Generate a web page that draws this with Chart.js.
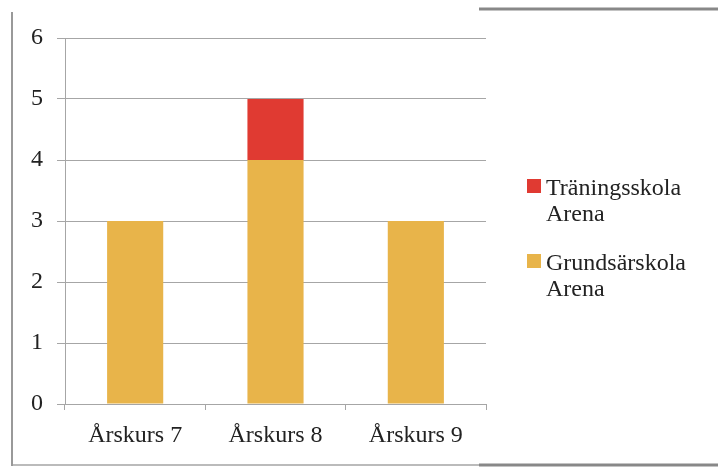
<!DOCTYPE html>
<html>
<head>
<meta charset="utf-8">
<script src="https://cdn.jsdelivr.net/npm/chart.js@4"></script>
<style>
  body { margin: 0; background: #fff; }
  #wrap { position: relative; width: 718px; height: 470px; }
  #legend { position: absolute; left: 527px; top: 174px; font-family: "Liberation Serif", serif; font-size: 24px; color: #222; line-height: 26px; }
  .item { position: relative; padding-left: 19px; margin-bottom: 23px; white-space: nowrap; }
  .box { position: absolute; left: 0; top: 5px; width: 14px; height: 14px; }
</style>
</head>
<body>
<div id="wrap">
  <canvas id="myChart" width="718" height="470"></canvas>
  <div id="legend"></div>
</div>
<script>
'use strict';

// data
let categories = ['Årskurs 7', 'Årskurs 8', 'Årskurs 9'];
let grundsarskola = [3, 4, 3];
let traningsskola = [0, 1, 0];
let seriesNames = [['Träningsskola', 'Arena'], ['Grundsärskola', 'Arena']];
let yTicks = [0, 1, 2, 3, 4, 5, 6];

let orange = '#E8B44A';
let red = '#E03A32';
let gridColor = '#A6A6A6';

// legend as html (top series first like the original)
let legend = document.getElementById('legend');
let legendColors = [red, orange];
for (let i = 0; i < seriesNames.length; i++) {
  let div = document.createElement('div');
  div.className = 'item';
  div.innerHTML = '<span class="box" style="background:' + legendColors[i] + '"></span>' + seriesNames[i].join('<br>');
  legend.appendChild(div);
}

// outer frame lines
let framePlugin = {
  id: 'frame',
  afterDraw(chart) {
    let ctx = chart.ctx;
    ctx.save();
    ctx.strokeStyle = '#999999';
    ctx.lineWidth = 2;
    ctx.beginPath();
    ctx.moveTo(12, 12);
    ctx.lineTo(12, 466);
    ctx.stroke();
    ctx.strokeStyle = '#BBBBBB';
    ctx.lineWidth = 2;
    ctx.beginPath();
    ctx.moveTo(13, 465);
    ctx.lineTo(479, 465);
    ctx.stroke();
    ctx.strokeStyle = '#888888';
    ctx.lineWidth = 3;
    ctx.beginPath();
    ctx.moveTo(479, 465);
    ctx.lineTo(718, 465);
    ctx.moveTo(479, 9);
    ctx.lineTo(718, 9);
    ctx.stroke();
    ctx.restore();
  }
};

let ctx = document.getElementById('myChart').getContext('2d');
let myChart = new Chart(ctx, { //eslint-disable-line
  type: 'bar',
  data: {
    labels: categories,
    datasets: [{
      label: seriesNames[1].join(' '),
      data: grundsarskola,
      backgroundColor: orange,
      borderWidth: 0,
      barPercentage: 0.4,
      categoryPercentage: 1
    },
    {
      label: seriesNames[0].join(' '),
      data: traningsskola,
      backgroundColor: red,
      borderWidth: 0,
      barPercentage: 0.4,
      categoryPercentage: 1
    }]
  },
  options: {
    responsive: false,
    animation: false,
    layout: { padding: { top: 38, right: 232, left: 0, bottom: 0 } },
    plugins: {
      legend: { display: false },
      tooltip: { enabled: false }
    },
    scales: {
      x: {
        stacked: true,
        afterFit(scale) { scale.height = 66; },
        grid: {
          offset: true,
          drawOnChartArea: false,
          drawTicks: true,
          tickLength: 6,
          color: gridColor
        },
        border: { color: gridColor, width: 1 },
        ticks: {
          color: '#222',
          padding: 11,
          font: { family: 'Liberation Serif', size: 24 }
        }
      },
      y: {
        stacked: true,
        min: 0,
        max: 6,
        afterFit(scale) { scale.width = 65; },
        afterBuildTicks(scale) { scale.ticks = yTicks.map(v => ({ value: v })); },
        grid: {
          color: gridColor,
          tickLength: 8
        },
        border: { color: gridColor, width: 1 },
        ticks: {
          color: '#222',
          padding: 14,
          font: { family: 'Liberation Serif', size: 24 }
        }
      }
    }
  },
  plugins: [framePlugin]
});
</script>
</body>
</html>
